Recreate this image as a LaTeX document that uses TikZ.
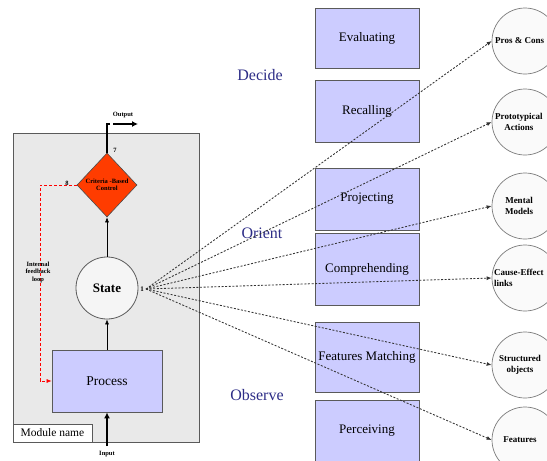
\documentclass[tikz,border=0pt]{standalone}
\usepackage{fontspec}
\setmainfont{Liberation Serif}
\usetikzlibrary{shapes.geometric,arrows.meta}
\definecolor{lav}{RGB}{204,204,255}
\definecolor{modgray}{RGB}{233,233,233}
\definecolor{ctrlred}{RGB}{255,60,0}
\definecolor{phase}{RGB}{45,45,135}
\definecolor{edge}{RGB}{90,90,90}
\begin{document}
\begin{tikzpicture}[x=1pt,y=-1pt,
  stagebox/.style={draw=edge, line width=0.8pt, fill=lav, minimum width=104pt,
    font=\fontsize{13}{15}\selectfont, inner sep=0pt},
  concept/.style={circle, draw=edge!80, line width=0.7pt, fill=white!98!black, minimum size=66pt,
    inner sep=0pt},
  concepttext/.style={inner sep=0pt, font=\bfseries\fontsize{9}{10.5}\selectfont, align=center},
  phaselabel/.style={text=phase, font=\fontsize{16}{18}\selectfont},
  tinylabel/.style={font=\bfseries\fontsize{6.5}{7.5}\selectfont, align=center, inner sep=0pt},
  fanline/.style={dash pattern=on 2pt off 1.6pt, draw=black!80, line width=0.85pt,
    -{Latex[length=5pt,width=4pt]}},
  flow/.style={line width=0.6pt, -{Latex[length=5pt,width=4pt]}}]
\clip (0,0) rectangle (547,461);
\useasboundingbox (0,0) rectangle (547,461);
\fill[white] (0,0) rectangle (547,461);

% module container
\node[draw=edge, line width=0.8pt, fill=modgray, minimum width=186pt, minimum height=309pt,
  inner sep=0pt] (mod) at (106,287.5) {};
\node[draw=edge, line width=0.8pt, fill=white, minimum width=79pt, minimum height=18pt,
  inner sep=0pt, font=\fontsize{11.5}{13}\selectfont] (modname) at (52.5,433) {Module name};

% inner blocks
\node[diamond, draw=black!70, line width=0.6pt, fill=ctrlred, minimum width=60pt,
  minimum height=64pt, inner sep=0pt, font=\bfseries\fontsize{6.5}{7.5}\selectfont,
  align=center] (ctrl) at (107,185) {Criteria -Based\\Control};
\node[circle, draw=edge, line width=0.8pt, fill=white!96!black, minimum size=62pt,
  inner sep=0pt, font=\bfseries\fontsize{13}{15}\selectfont] (state) at (107,288) {State};
\node[draw=edge, line width=0.8pt, fill=lav, minimum width=110pt, minimum height=62pt,
  inner sep=0pt, font=\fontsize{13.5}{15}\selectfont] (process) at (107,381) {Process};

% flow inside the module
\draw[flow] (process.north) -- (state.south);
\draw[flow] (state.north) -- (ctrl.south);

% output
\coordinate (outtop) at (107,124);
\coordinate (outA) at (113,124);
\coordinate (outB) at (138,124);
\draw[line width=1.4pt] (ctrl.north) -- (outtop) -- ++(3,0);
\draw[line width=1.6pt, -{Latex[length=6pt,width=6pt]}] (outA) -- (outB);
\node[tinylabel] (outlbl) at (123,115) {Output};
\node[tinylabel] (seven) at (115,150) {7};

% input
\coordinate (inA) at (107,446);
\draw[line width=1.6pt, -{Latex[length=6pt,width=6pt]}] (inA) -- (process.south);
\node[tinylabel] (inlbl) at (107,454) {Input};

% internal feedback loop
\coordinate (fbk) at (40,381);
\draw[red, densely dashed, line width=0.6pt, -{Latex[length=5pt,width=4pt]}]
  (ctrl.west) -| (fbk) -- (process.west);
\node[tinylabel] (eight) at (67,183) {8};
\node[tinylabel] (fbklbl) at (38,272) {Internal\\feedback\\loop};

% stages
\node[stagebox, minimum height=60pt] (eval) at (367,38) {Evaluating};
\node[stagebox, minimum height=62pt] (recall) at (367,111) {Recalling};
\node[stagebox, minimum height=62pt] (proj) at (367,199) {Projecting};
\node[stagebox, minimum height=72pt] (comp) at (367,269) {Comprehending};
\node[stagebox, minimum height=70pt] (feat) at (367,357) {Features Matching};
\node[stagebox, minimum height=62pt] (perc) at (367,431) {Perceiving};

% phases
\node[phaselabel] (decide) at (260,75) {Decide};
\node[phaselabel] (orient) at (262,233) {Orient};
\node[phaselabel] (observe) at (257,395) {Observe};

% knowledge items
\node[concept] (pros) at (525,41) {};
\node[concept] (proto) at (525,122) {};
\node[concept] (mental) at (525,206) {};
\node[concept] (cause) at (525,278) {};
\node[concept] (struct) at (525,365) {};
\node[concept] (feats) at (525,440) {};
\node[concepttext, anchor=west] (prostxt) at (495,41) {Pros \& Cons};
\node[concepttext, anchor=west] (prototxt) at (495,122) {Prototypical\\Actions};
\node[concepttext] (mentaltxt) at (519,206) {Mental\\Models};
\node[concepttext, anchor=west, align=left] (causetxt) at (494,278) {Cause-Effect\\links};
\node[concepttext] (structtxt) at (520,365) {Structured\\objects};
\node[concepttext] (featstxt) at (520,440) {Features};

% links from the state
\node[tinylabel, font=\bfseries\fontsize{7}{8}\selectfont] (one) at (142,289) {1};
\coordinate (fan) at (146,289);
\foreach \t in {pros,proto,mental,cause,struct,feats}
  \draw[fanline] (fan) -- (\t.west);
\end{tikzpicture}
\end{document}
